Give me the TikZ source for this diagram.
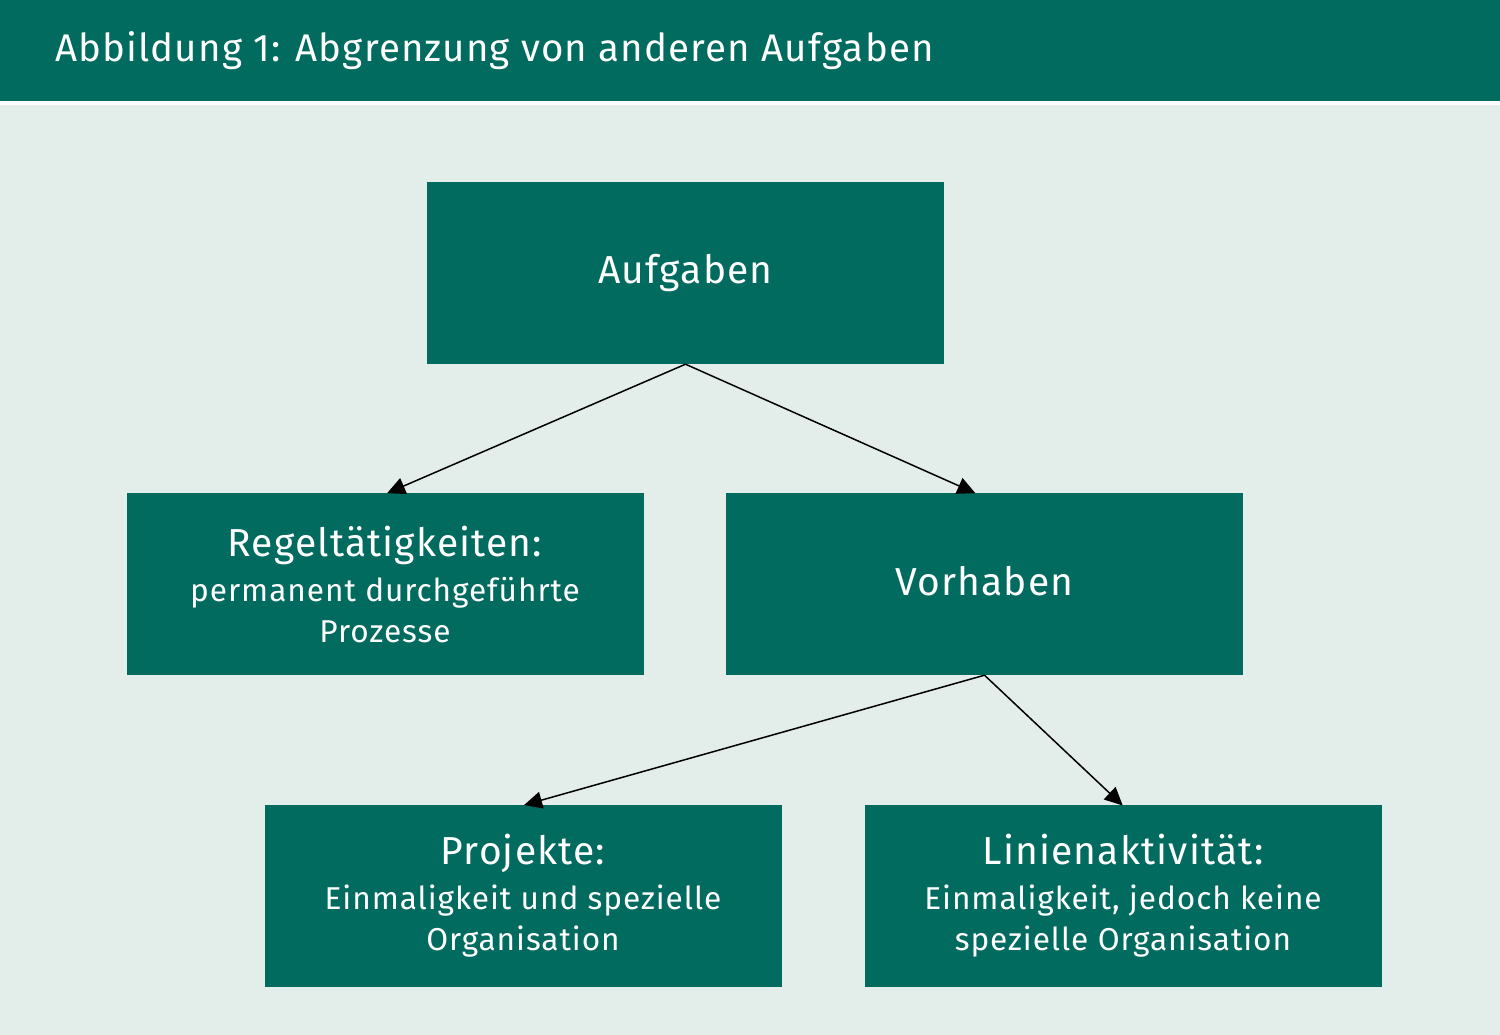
\documentclass[tikz,border=0pt]{standalone}
\usepackage{fontspec}
\setmainfont{Fira Sans}[LetterSpace=3]
\usetikzlibrary{arrows.meta}
\definecolor{teal1}{HTML}{006B5E}
\definecolor{bgc}{HTML}{E3EDEA}
\tikzset{
  box/.style={fill=teal1, draw=none, minimum width=517pt, minimum height=182pt, inner sep=0pt, text=white, align=center, font=\fontsize{31.6}{41}\selectfont},
  conn/.style={draw=black, line width=1.5pt, -{Triangle[length=18pt,width=17pt]}, shorten >=-1pt},
}
\newcommand{\bigt}[1]{{\fontsize{39}{41}\selectfont #1}}
\begin{document}
\begin{tikzpicture}[x=1pt,y=-1pt]
\useasboundingbox (0,0) rectangle (1500,1035);
\fill[bgc] (0,0) rectangle (1500,1035);
\fill[teal1] (0,0) rectangle (1500,101);
\fill[white] (0,101) rectangle (1500,105);
\node[anchor=west, text=white, font=\fontsize{38.5}{46}\selectfont, inner sep=0pt] (title) at (55,51) {Abbildung 1: Abgrenzung von anderen Aufgaben};
\node[box] (auf) at (685.5,273) {\bigt{Aufgaben}};
\node[box] (reg) at (385,584) {\bigt{Regeltätigkeiten:}\\[4pt]permanent durchgeführte\\Prozesse};
\node[box] (vor) at (984.5,584) {\raisebox{-11pt}[0pt][0pt]{\bigt{Vorhaben}}};
\node[box] (pro) at (523,896) {\bigt{Projekte:}\\[4pt]Einmaligkeit und spezielle\\Organisation};
\node[box] (lin) at (1123,896) {\bigt{Linienaktivität:}\\[4pt]Einmaligkeit, jedoch keine\\spezielle Organisation};
\draw[conn] (auf.south) -- ([xshift=3pt]reg.north);
\draw[conn] (auf.south) -- ([xshift=-10pt]vor.north);
\draw[conn] (vor.south) -- ([xshift=2pt]pro.north);
\draw[conn] (vor.south) -- ([xshift=-1pt]lin.north);
\end{tikzpicture}
\end{document}
